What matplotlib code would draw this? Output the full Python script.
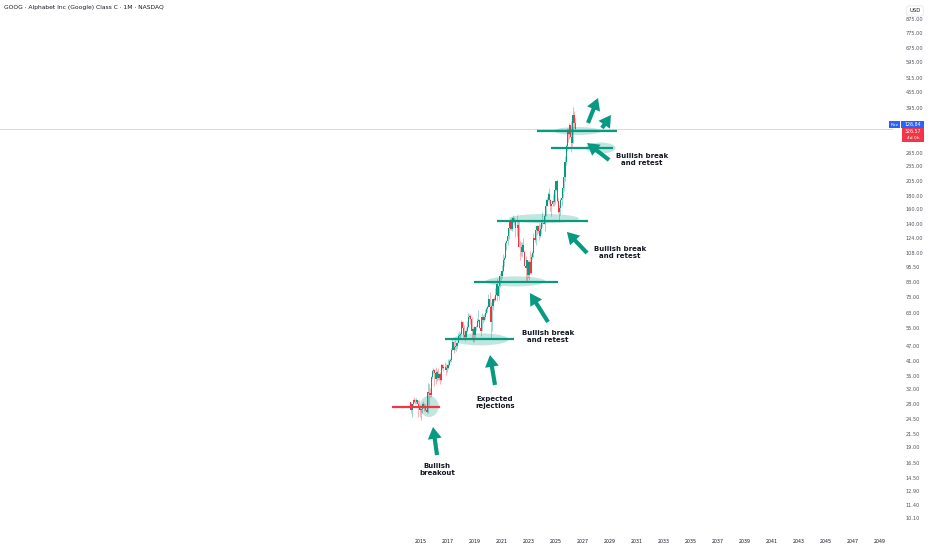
import numpy as np
import pandas as pd
import matplotlib
matplotlib.use('Agg')
import matplotlib.pyplot as plt
from matplotlib.patches import Ellipse, Rectangle
from matplotlib.transforms import ScaledTranslation

# monthly candles GOOG (class C), first bar Apr 2014
opens = [28.4, 26.5, 28.0, 28.9, 28.4, 28.6, 28.9, 28.0, 27.3,
         26.5, 26.7, 28.1, 27.4, 27.0, 26.6, 26.0, 31.3, 30.9, 30.4, 35.5, 37.6,
         37.9, 37.1, 35.0, 37.2, 35.4, 36.7, 34.6, 39.6, 38.5, 38.9, 39.0, 37.8,
         38.6, 39.6, 41.1, 41.5, 45.3, 48.8, 45.4, 46.5, 47.0, 48.5, 51.6, 51.8,
         52.3, 58.5, 55.2, 51.9, 50.9, 53.9, 55.8, 61.2, 61.4, 59.7, 53.9, 54.7,
         51.8, 55.9, 55.9, 58.7, 59.3, 55.3, 54.0, 60.9, 59.4, 61.0, 63.0, 65.3,
         66.9, 71.6, 66.9, 58.1, 67.3, 71.5, 70.7, 74.5, 81.7, 73.5, 80.6, 88.0,
         87.6, 91.8, 101.1, 103.1, 117.7, 120.6, 125.3, 135.2, 145.5, 133.3, 148.0, 142.5,
         144.7, 135.3, 135.1, 139.1, 114.3, 113.9, 109.4, 116.3, 109.2, 96.2, 94.7, 101.4,
         88.7, 99.9, 90.3, 104.0, 108.2, 123.4, 121.0, 133.0, 137.4, 131.9, 125.3, 133.9,
         141.0, 141.8, 139.8, 150.9, 164.6, 173.9, 183.4, 173.2, 165.1, 167.2, 172.7, 170.5,
         190.4, 205.6, 172.2, 156.4, 160.9, 172.9, 177.4, 192.6, 213.5, 244.1, 281.8, 321.0,
         313.5, 338.0, 305.0, 290.0, 372.0, 345.0]
highs = [28.6, 28.1, 29.2, 29.9, 29.3, 29.6, 29.0, 28.9, 27.8,
         26.8, 28.2, 28.7, 28.2, 27.9, 27.2, 33.7, 33.5, 32.2, 36.1, 38.1, 38.5,
         38.2, 39.0, 37.8, 38.8, 36.9, 37.3, 39.9, 39.9, 39.9, 40.9, 39.9, 40.0,
         42.0, 41.8, 42.3, 46.2, 49.9, 49.0, 49.8, 47.5, 48.9, 53.0, 53.7, 53.2,
         59.5, 59.0, 56.9, 54.2, 55.3, 58.7, 63.2, 62.5, 62.4, 60.8, 55.9, 56.2,
         55.9, 56.9, 60.5, 64.6, 59.8, 56.4, 63.3, 62.1, 62.8, 65.5, 66.9, 68.1,
         75.1, 76.5, 69.9, 67.8, 72.0, 73.5, 79.3, 82.1, 86.3, 83.1, 90.2, 91.4,
         96.6, 106.7, 104.9, 119.1, 121.6, 127.3, 136.0, 146.3, 147.6, 148.8, 152.1, 149.2,
         146.5, 152.0, 143.8, 143.6, 119.8, 119.2, 119.6, 123.0, 111.0, 105.0, 101.7, 101.8,
         101.6, 109.6, 107.5, 109.6, 129.0, 129.6, 134.1, 138.4, 139.2, 141.2, 139.4, 143.9,
         155.2, 152.2, 152.6, 174.7, 178.8, 186.7, 193.3, 174.9, 168.0, 182.6, 182.0, 201.4,
         206.4, 208.7, 176.3, 166.6, 176.8, 180.1, 197.9, 214.7, 256.7, 285.6, 328.8, 330.0,
         345.0, 350.0, 330.0, 398.0, 385.0, 360.0]
lows = [25.9, 24.9, 27.6, 28.3, 28.0, 28.1, 24.9, 26.9, 24.9,
        24.3, 25.9, 26.9, 26.4, 26.4, 25.9, 25.8, 27.8, 29.8, 29.9, 35.1, 36.7,
        33.0, 33.6, 34.5, 34.8, 34.7, 33.4, 34.3, 38.2, 37.6, 38.3, 36.3, 37.2,
        38.3, 39.4, 40.8, 40.9, 45.3, 44.0, 45.2, 45.1, 45.6, 48.1, 50.4, 49.9,
        51.9, 50.9, 50.1, 49.2, 50.3, 53.1, 55.0, 60.0, 57.1, 49.6, 48.9, 48.7,
        50.8, 53.8, 55.5, 58.3, 55.2, 51.3, 53.9, 57.6, 58.8, 59.7, 62.7, 64.0,
        66.4, 65.8, 50.7, 53.8, 64.6, 69.8, 70.1, 73.9, 70.6, 70.9, 80.0, 84.9,
        86.1, 91.5, 96.1, 103.0, 110.7, 116.5, 122.6, 133.1, 133.2, 132.0, 141.4, 138.8,
        124.5, 125.9, 126.2, 113.7, 101.9, 105.1, 104.0, 109.1, 95.9, 83.9, 83.45, 86.5,
        85.1, 89.4, 89.8, 102.2, 104.0, 119.2, 116.0, 127.0, 128.8, 121.5, 124.3, 128.3,
        136.5, 139.8, 131.6, 150.6, 164.1, 171.4, 168.6, 157.3, 150.2, 164.3, 165.1, 167.8,
        188.0, 170.4, 154.3, 142.7, 151.5, 164.2, 176.6, 187.2, 206.0, 237.6, 270.0, 292.0,
        300.0, 266.0, 280.0, 288.0, 330.0, 322.0]
closes = [26.5, 28.0, 28.9, 28.4, 28.6, 28.9, 28.0, 27.3, 26.5,
          26.7, 28.1, 27.4, 27.0, 26.6, 26.0, 31.3, 30.9, 30.4, 35.5, 37.6, 37.9,
          37.1, 35.0, 37.2, 35.4, 36.7, 34.6, 39.6, 38.5, 38.9, 39.0, 37.8, 38.6,
          39.6, 41.1, 41.5, 45.3, 48.8, 45.4, 46.5, 47.0, 48.5, 51.6, 51.8, 52.3,
          58.5, 55.2, 51.9, 50.9, 53.9, 55.8, 61.2, 61.4, 59.7, 53.9, 54.7, 51.8,
          55.9, 55.9, 58.7, 59.3, 55.3, 54.0, 60.9, 59.4, 61.0, 63.0, 65.3, 66.9,
          71.6, 66.9, 58.1, 67.3, 71.5, 70.7, 74.5, 81.7, 73.5, 80.6, 88.0, 87.6,
          91.8, 101.1, 103.1, 117.7, 120.6, 125.3, 135.2, 145.5, 133.3, 148.0, 142.5, 144.7,
          135.3, 135.1, 139.1, 114.3, 113.9, 109.4, 116.3, 109.2, 96.2, 94.7, 101.4, 88.7,
          99.9, 90.3, 104.0, 108.2, 123.4, 121.0, 133.0, 137.4, 131.9, 125.3, 133.9, 141.0,
          141.8, 139.8, 150.9, 164.6, 173.9, 183.4, 173.2, 165.1, 167.2, 172.7, 170.5, 190.4,
          205.6, 172.2, 156.4, 160.9, 172.9, 177.4, 192.6, 213.5, 244.1, 281.8, 321.0, 313.5,
          338.0, 305.0, 290.0, 372.0, 345.0, 326.57]

last_price = 326.57
price_ticks = [875, 775, 675, 595, 515, 455, 395, 265, 235, 205, 180, 160, 140, 124,
               108, 95.5, 83, 73, 63, 55, 47, 41, 36, 32, 28, 24.5, 21.5, 19, 16.5,
               14.5, 12.9, 11.4, 10.1]
year_ticks = list(range(2015, 2050, 2))

# drawings: (price, from, to, colour)
levels = [(27.3, 2012.85, 2016.4, '#f23645'),
          (49.9, 2016.8, 2021.9, '#089981'),
          (83.7, 2018.9, 2025.15, '#089981'),
          (143.8, 2020.6, 2027.4, '#089981'),
          (321.5, 2023.6, 2029.5, '#089981'),
          (276.2, 2024.6, 2029.2, '#089981')]
# zones: (time, price, width px, height px)
zones = [(2015.6, 27.4, 19, 21),
         (2019.4, 49.9, 56, 12),
         (2022.0, 83.8, 60, 10),
         (2024.1, 147.0, 70, 9),
         (2026.6, 321.5, 47, 8),
         (2028.3, 276.2, 30, 11)]
# arrows: (tail t, tail p, tip t, tip p)
arrows = [(2016.19, 17.75, 2015.89, 22.8),
          (2020.48, 33.2, 2020.11, 43.4),
          (2024.41, 58.3, 2023.07, 75.5),
          (2027.30, 108.0, 2025.81, 130.4),
          (2028.93, 248.1, 2027.30, 288.8),
          (2027.37, 345.4, 2028.11, 431.8),
          (2028.41, 330.2, 2029.07, 370.9)]
notes = [(2016.19, 15.6, 'Bullish\nbreakout'),
         (2020.48, 28.4, 'Expected\nrejections'),
         (2024.41, 51.3, 'Bullish break\nand retest'),
         (2029.74, 108.5, 'Bullish break\nand retest'),
         (2031.37, 249.0, 'Bullish break\nand retest')]

W, H = 932, 550
fig = plt.figure(figsize=(W / 100, H / 100), dpi=100)
ax = fig.add_axes([0, 17 / H, 893 / W, 533 / H])
ax.set_yscale('log')

months = pd.date_range('2014-04-01', periods=len(closes), freq='MS')
t = months.year.values + (months.month.values - 1) / 12
o = np.array(opens)
c = np.array(closes)
up = c >= o
col = np.where(up, '#089981', '#f23645')
ax.vlines(t, lows, highs, colors=col, lw=0.5, alpha=0.55, zorder=2)
ax.bar(t, np.abs(c - o), bottom=np.minimum(o, c), width=0.075, color=col,
       linewidth=0, zorder=3)

ax.axhline(last_price, color='#c8d2ee', lw=0.6, zorder=1)

for p, a, b, clr in levels:
    ax.plot([a, b], [p, p], color=clr, lw=1.6, solid_capstyle='butt', zorder=5)

for tt, p, w, h in zones:
    tr = fig.dpi_scale_trans + ScaledTranslation(tt, p, ax.transData)
    ax.add_patch(Ellipse((0, 0), w / 100, h / 100, transform=tr,
                         facecolor='#089981', alpha=0.25, lw=0, zorder=4))

for t0, p0, t1, p1 in arrows:
    ax.annotate('', xy=(t1, p1), xytext=(t0, p0),
                arrowprops=dict(arrowstyle='simple,head_width=1.0,head_length=0.85,tail_width=0.3',
                                color='#089981', lw=0, shrinkA=0, shrinkB=0), zorder=6)

for tt, p, s in notes:
    ax.text(tt, p, s, ha='center', va='center', fontsize=5.0, fontweight='bold',
            color='#131722', linespacing=1.25, zorder=6)

ax.set_xlim(1983.815, 2049.963)
ax.set_ylim(8.838, 1037.0)
ax.set_xticks(year_ticks)
ax.set_xticklabels([str(y) for y in year_ticks], fontsize=3.4, color='#131722')
ax.yaxis.tick_right()
ax.set_yticks(price_ticks)
ax.set_yticklabels(['%.2f' % v for v in price_ticks], fontsize=3.6, color='#50535e')
ax.yaxis.set_minor_locator(matplotlib.ticker.NullLocator())
ax.tick_params(axis='x', length=0, pad=4.5)
ax.tick_params(axis='y', length=0, pad=9)
for s in ax.spines.values():
    s.set_visible(False)


def fx(x):
    return x / W


def fy(y):
    return 1 - y / H


fig.text(fx(4), fy(8), 'GOOG · Alphabet Inc (Google) Class C · 1M · NASDAQ',
         fontsize=4.3, color='#131722', va='center', ha='left')
fig.text(fx(915), fy(11), 'USD', fontsize=3.8, color='#131722', ha='center', va='center',
         bbox=dict(boxstyle='round,pad=0.5', fc='white', ec='#e0e3eb', lw=0.5))

# price scale labels
fig.add_artist(Rectangle((fx(889), fy(128)), 11 / W, 7 / H, transform=fig.transFigure,
                         fc='#2962ff', ec='none'))
fig.add_artist(Rectangle((fx(901), fy(128)), 23 / W, 7 / H, transform=fig.transFigure,
                         fc='#2962ff', ec='none'))
fig.add_artist(Rectangle((fx(902), fy(142)), 22 / W, 14 / H, transform=fig.transFigure,
                         fc='#f23645', ec='none'))
fig.text(fx(894.5), fy(124.5), 'Rxz', fontsize=3.2, color='white', ha='center', va='center')
fig.text(fx(912.5), fy(124.5), '126.84', fontsize=3.4, color='white', ha='center', va='center')
fig.text(fx(913), fy(131.5), '326.57', fontsize=3.4, color='white', ha='center', va='center')
fig.text(fx(913), fy(138), '4d 0h', fontsize=3.2, color='white', ha='center', va='center')

fig.savefig('out.png', dpi=100, facecolor='white')
